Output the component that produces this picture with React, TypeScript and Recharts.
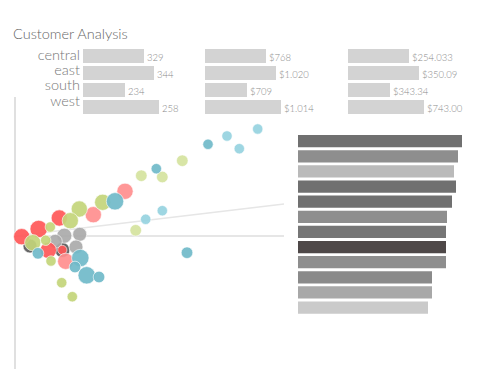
import {
  Bar,
  BarChart,
  Cell,
  LabelList,
  ReferenceLine,
  Scatter,
  ScatterChart,
  XAxis,
  YAxis,
  ZAxis,
} from "recharts";

const FONT = "Lato, 'Open Sans', sans-serif";

// top summary bars (same bar lengths in all three columns)
const regions = ["central", "east", "south", "west"];
const regionBars = [61, 71, 42, 76];
const customerLabels = ["329", "344", "234", "258"];
const salesLabels = ["$768", "$1.020", "$709", "$1.014"];
const profitLabels = ["$254.033", "$350.09", "$343.34", "$743.00"];

// bubbles: x, y, z (size)
const redPoints = [
  { x: 6.7, y: -0.7, z: 49 },
  { x: 23.7, y: 7, z: 56 },
  { x: 44.3, y: 18, z: 49 },
  { x: 33.3, y: -14.3, z: 49 },
  { x: 47.3, y: -14, z: 16 },
];
const pinkPoints = [
  { x: 110, y: 44.7, z: 49 },
  { x: 78.3, y: 21.3, z: 49 },
  { x: 50.7, y: -25.3, z: 49 },
];
const greenPoints = [
  { x: 87.7, y: 33.7, z: 49 },
  { x: 64.3, y: 27, z: 49 },
  { x: 55.3, y: 15.3, z: 49 },
  { x: 17.7, y: -6.7, z: 49 },
  { x: 35.3, y: 9, z: 20 },
  { x: 30.7, y: -4.3, z: 20 },
  { x: 36, y: -25, z: 20 },
  { x: 46.7, y: -46.7, z: 20 },
  { x: 57.3, y: -60.7, z: 20 },
];
const lightGreenPoints = [
  { x: 167.3, y: 75.3, z: 25 },
  { x: 126.3, y: 60.3, z: 25 },
  { x: 147.3, y: 59, z: 25 },
  { x: 120.7, y: 5.7, z: 25 },
];
const tealPoints = [
  { x: 193, y: 91.7, z: 20 },
  { x: 141.3, y: 67.3, z: 20 },
  { x: 100, y: 34.7, z: 56 },
  { x: 23, y: -17.3, z: 25 },
  { x: 65.3, y: -22, z: 56 },
  { x: 60, y: -31, z: 25 },
  { x: 71.7, y: -39.3, z: 56 },
  { x: 84, y: -41, z: 25 },
  { x: 172, y: -16.7, z: 25 },
];
const lightBluePoints = [
  { x: 242.7, y: 107, z: 20 },
  { x: 212, y: 100, z: 20 },
  { x: 224.3, y: 87.3, z: 20 },
  { x: 147.3, y: 25.3, z: 20 },
  { x: 130.7, y: 16.7, z: 20 },
];
const grayPoints = [
  { x: 49.3, y: 0.3, z: 42 },
  { x: 64.7, y: 1.7, z: 36 },
  { x: 40.3, y: -5.3, z: 36 },
  { x: 61, y: -11, z: 36 },
];
const darkPoints = [
  { x: 15, y: -10, z: 36 },
  { x: 47.3, y: -14, z: 42 },
];
const trendEnd = { x: 269, y: 32 };

// right ranking bars
const rankNames = ["r1", "r2", "r3", "r4", "r5", "r6", "r7", "r8", "r9", "r10", "r11", "r12"];
const rankValues = [164, 160, 156, 158, 154, 149, 148, 148, 148, 134, 134, 130];
const rankShades = [
  "#707070",
  "#8e8e8e",
  "#bababa",
  "#707070",
  "#707070",
  "#8e8e8e",
  "#767676",
  "#4e4848",
  "#8e8e8e",
  "#8a8a8a",
  "#a8a8a8",
  "#cacaca",
];

const bubbleSeries = [
  { name: "dark", data: darkPoints, color: "#5a5a5a" },
  { name: "gray", data: grayPoints, color: "#aaaaaa" },
  { name: "red", data: redPoints, color: "#ff5757" },
  { name: "pink", data: pinkPoints, color: "#ff8e8e" },
  { name: "green", data: greenPoints, color: "#c3d57a" },
  { name: "lightGreen", data: lightGreenPoints, color: "#d5e39e" },
  { name: "teal", data: tealPoints, color: "#70bac9" },
  { name: "lightBlue", data: lightBluePoints, color: "#96d3df" },
];

const renderValueLabel = (props: any) => {
  const vb = props.viewBox || {};
  const x = Number(props.x ?? vb.x);
  const y = Number(props.y ?? vb.y);
  const w = Number(props.width ?? vb.width);
  const h = Number(props.height ?? vb.height);
  return (
    <text
      x={x + w + 3}
      y={y + h - 2}
      fontSize={9.5}
      fontFamily={FONT}
      fontWeight={300}
      fill="#8a8a8a"
    >
      {props.value}
    </text>
  );
};

function RegionBars({ labels, left, width }: { labels: string[]; left: number; width: number }) {
  const data = regions.map((region, i) => ({
    region,
    value: regionBars[i],
    label: labels[i],
  }));
  return (
    <div style={{ position: "absolute", left, top: 47 }}>
      <BarChart
        layout="vertical"
        width={width}
        height={68}
        data={data}
        margin={{ top: 0, right: 0, bottom: 0, left: 0 }}
      >
        <XAxis type="number" hide domain={[0, width]} />
        <YAxis type="category" dataKey="region" hide />
        <Bar dataKey="value" fill="#d3d3d3" barSize={14} isAnimationActive={false}>
          <LabelList dataKey="label" content={renderValueLabel} />
        </Bar>
      </BarChart>
    </div>
  );
}

export default function App() {
  const rankData = rankNames.map((name, i) => ({ name, value: rankValues[i] }));
  return (
    <div
      style={{
        position: "absolute",
        left: 0,
        top: 0,
        width: 480,
        height: 369,
        background: "#fff",
        overflow: "hidden",
        fontFamily: FONT,
      }}
    >
      <svg width={480} height={120} style={{ position: "absolute", left: 0, top: 0 }}>
        <text x={13} y={39} fontSize={14.5} fontWeight={300} fill="#666" fontFamily={FONT}>
          Customer Analysis
        </text>
        {regions.map((r, i) => (
          <text
            key={r}
            x={80}
            y={60 + i * 15.2}
            textAnchor="end"
            fontSize={14.5}
            fontWeight={300}
            fill="#777"
            fontFamily={FONT}
          >
            {r}
          </text>
        ))}
      </svg>

      <RegionBars labels={customerLabels} left={83} width={120} />
      <RegionBars labels={salesLabels} left={205} width={130} />
      <RegionBars labels={profitLabels} left={348} width={132} />

      <div style={{ position: "absolute", left: 0, top: 90 }}>
        <ScatterChart
          width={300}
          height={279}
          margin={{ top: 7, right: 16, bottom: 0, left: 15 }}
        >
          <XAxis type="number" dataKey="x" domain={[0, 269]} hide />
          <YAxis type="number" dataKey="y" domain={[-133, 139]} hide />
          <ZAxis type="number" dataKey="z" domain={[0, 60]} range={[0, 60 * Math.PI * 1.35]} />
          <ReferenceLine x={0} stroke="#e0e0e0" strokeWidth={2} />
          <ReferenceLine y={0} stroke="#e6e6e6" strokeWidth={2} />
          <ReferenceLine
            segment={[{ x: 0, y: 0 }, trendEnd]}
            stroke="#e6e6e6"
            strokeWidth={1.5}
          />
          {bubbleSeries.map((s) => (
            <Scatter
              key={s.name}
              name={s.name}
              data={s.data}
              fill={s.color}
              fillOpacity={0.92}
              stroke="#fff"
              strokeWidth={0.6}
              isAnimationActive={false}
            />
          ))}
        </ScatterChart>
      </div>

      <div style={{ position: "absolute", left: 298, top: 133.5 }}>
        <BarChart
          layout="vertical"
          width={170}
          height={181.5}
          data={rankData}
          margin={{ top: 0, right: 0, bottom: 0, left: 0 }}
        >
          <XAxis type="number" hide domain={[0, 170]} />
          <YAxis type="category" dataKey="name" hide />
          <Bar dataKey="value" barSize={12.3} isAnimationActive={false}>
            {rankData.map((d, i) => (
              <Cell key={d.name} fill={rankShades[i]} />
            ))}
          </Bar>
        </BarChart>
      </div>
    </div>
  );
}
